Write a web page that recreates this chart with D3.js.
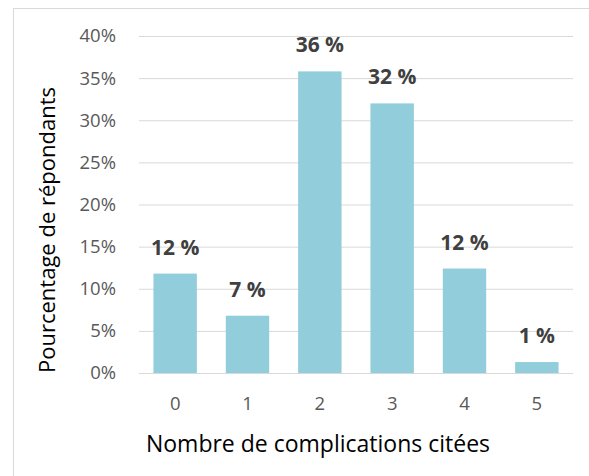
<!DOCTYPE html>
<html>
<head>
<meta charset="utf-8">
<script src="https://cdn.jsdelivr.net/npm/d3@7"></script>
<style>
  html, body { margin: 0; padding: 0; background: #fff; }
  svg { display: block; }
</style>
</head>
<body>
<svg id="chart" width="589" height="476"></svg>
<script>
const categories = ["0", "1", "2", "3", "4", "5"];
const values = [0.118, 0.068, 0.358, 0.320, 0.124, 0.013];
const valueLabels = ["12 %", "7 %", "36 %", "32 %", "12 %", "1 %"];
const yTicks = [0, 0.05, 0.10, 0.15, 0.20, 0.25, 0.30, 0.35, 0.40];
const xTitle = "Nombre de complications citées";
const yTitle = "Pourcentage de répondants";

const FONT = "'Open Sans', sans-serif";
const svg = d3.select("#chart");

svg.append("rect").attr("x", 0).attr("y", 0).attr("width", 589).attr("height", 476).attr("fill", "#fff");
// outer chart frame (partly cropped)
svg.append("rect")
  .attr("x", 13.5).attr("y", 8.5).attr("width", 620).attr("height", 520)
  .attr("fill", "none").attr("stroke", "#d9d9d9").attr("stroke-width", 1);

const x = d3.scaleBand().domain(categories).range([139, 573]).paddingInner(0.4).paddingOuter(0.2);
const y = d3.scaleLinear().domain([0, 0.4]).range([373, 36]);

// gridlines + y tick labels via axis
const yAxis = d3.axisLeft(y).tickValues(yTicks).tickFormat(d3.format(".0%")).tickSize(-(573 - 139)).tickPadding(23);
const gy = svg.append("g").attr("transform", "translate(139,0)").call(yAxis);
gy.select(".domain").remove();
gy.selectAll(".tick line").attr("stroke", "#d9d9d9").attr("stroke-width", 1);
gy.selectAll(".tick text").attr("fill", "#595959").style("font-family", FONT).style("font-size", "18.5px");

// bars
svg.append("g").selectAll("rect").data(categories).join("rect")
  .attr("x", d => x(d))
  .attr("y", (d, i) => y(values[i]))
  .attr("width", x.bandwidth())
  .attr("height", (d, i) => y(0) - y(values[i]))
  .attr("fill", "#92cddc");

// baseline
svg.append("line").attr("x1", 139).attr("x2", 573).attr("y1", y(0) + 0.5).attr("y2", y(0) + 0.5)
  .attr("stroke", "#d9d9d9").attr("stroke-width", 1);

// x axis labels
const xAxis = d3.axisBottom(x).tickSize(0).tickPadding(24);
const gx = svg.append("g").attr("transform", `translate(0,${y(0)})`).call(xAxis);
gx.select(".domain").remove();
gx.selectAll(".tick text").attr("fill", "#595959").style("font-family", FONT).style("font-size", "18.5px");

// value labels
svg.append("g").selectAll("text").data(categories).join("text")
  .attr("x", d => x(d) + x.bandwidth() / 2)
  .attr("y", (d, i) => y(values[i]) - 19)
  .attr("text-anchor", "middle")
  .attr("fill", "#404040")
  .style("font-family", FONT).style("font-size", "21px").style("font-weight", "bold")
  .text((d, i) => valueLabels[i]);

// axis titles
svg.append("text")
  .attr("x", 318).attr("y", 452)
  .attr("text-anchor", "middle").attr("fill", "#000")
  .style("font-family", FONT).style("font-size", "23px")
  .text(xTitle);

svg.append("text")
  .attr("transform", "translate(55,230) rotate(-90)")
  .attr("text-anchor", "middle").attr("fill", "#000")
  .style("font-family", FONT).style("font-size", "22px")
  .text(yTitle);
</script>
</body>
</html>
